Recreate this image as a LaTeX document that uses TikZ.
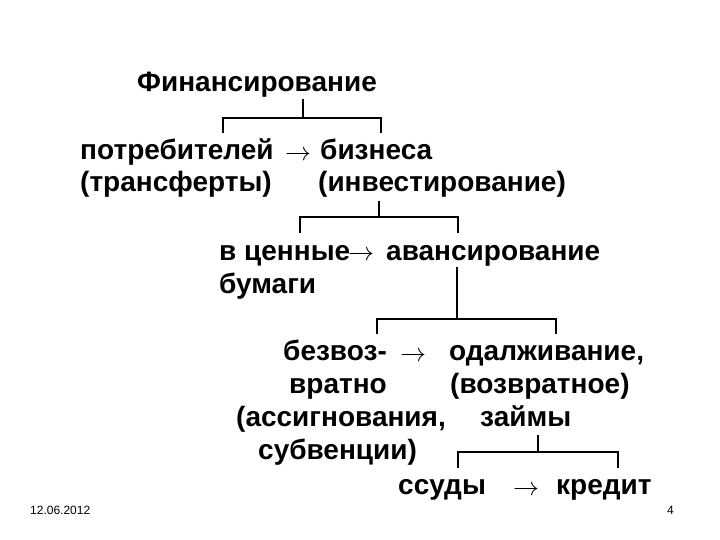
\documentclass[tikz,border=0pt]{standalone}
\usepackage{graphicx}
\usepackage{fontspec}
\setmainfont{Liberation Sans}
\newcommand{\myarrow}{\resizebox{26pt}{!}{$\rightarrow$}}
\begin{document}
\begin{tikzpicture}[x=1pt,y=-1pt,
  lbl/.style={anchor=base west,inner sep=0pt,font=\fontsize{28}{33}\selectfont\bfseries},
  arr/.style={anchor=base west,inner sep=0pt,yshift=-1pt},
  small/.style={anchor=base west,inner sep=0pt,font=\fontsize{12}{14}\selectfont},
  conn/.style={draw=black,line width=1.4pt}]
\useasboundingbox (0,0) rectangle (720,540);
% texts
\node[lbl] (fin) at (137,92) {Финансирование};
\node[lbl] (potr) at (80,160) {потребителей};
\node[arr] (a1) at (285,160) {\myarrow};
\node[lbl] (biz) at (320,160) {бизнеса};
\node[lbl] (trans) at (80,192) {(трансферты)};
\node[lbl] (inv) at (318,192) {(инвестирование)};
\node[lbl] (cen) at (219,260) {в ценные};
\node[arr] (a2) at (348,260) {\myarrow};
\node[lbl] (avan) at (386,260) {авансирование};
\node[lbl] (bum) at (219,293) {бумаги};
\node[lbl] (bez) at (283,360) {безвоз-};
\node[arr] (a3) at (400,360) {\myarrow};
\node[lbl] (odal) at (449,360) {одалживание,};
\node[lbl] (vratno) at (289,393) {вратно};
\node[lbl] (vozv) at (450,393) {(возвратное)};
\node[lbl] (assig) at (236,426) {(ассигнования,};
\node[lbl] (zaim) at (480,426) {займы};
\node[lbl] (subv) at (258,459) {субвенции)};
\node[lbl] (ssud) at (398,494) {ссуды};
\node[arr] (a4) at (513,494) {\myarrow};
\node[lbl] (kred) at (556,494) {кредит};
\node[small] (date) at (30,514) {12.06.2012};
\node[small] (pg) at (667,514) {4};
% bracket 1
\coordinate (b1t) at (303,99);
\coordinate (b1m) at (303,118);
\coordinate (b1l) at (223,133);
\coordinate (b1r) at (381,133);
\draw[conn] (b1t) -- (b1m);
\draw[conn] (b1l) |- (b1m) -| (b1r);
% bracket 2
\coordinate (b2t) at (379,201);
\coordinate (b2m) at (379,217);
\coordinate (b2l) at (300,233);
\coordinate (b2r) at (458,233);
\draw[conn] (b2t) -- (b2m);
\draw[conn] (b2l) |- (b2m) -| (b2r);
% bracket 3
\coordinate (b3t) at (457,267);
\coordinate (b3m) at (457,319);
\coordinate (b3l) at (377,334);
\coordinate (b3r) at (556,334);
\draw[conn] (b3t) -- (b3m);
\draw[conn] (b3l) |- (b3m) -| (b3r);
% bracket 4
\coordinate (b4t) at (538,435);
\coordinate (b4m) at (538,452);
\coordinate (b4l) at (458,468);
\coordinate (b4r) at (618,468);
\draw[conn] (b4t) -- (b4m);
\draw[conn] (b4l) |- (b4m) -| (b4r);
\end{tikzpicture}
\end{document}
